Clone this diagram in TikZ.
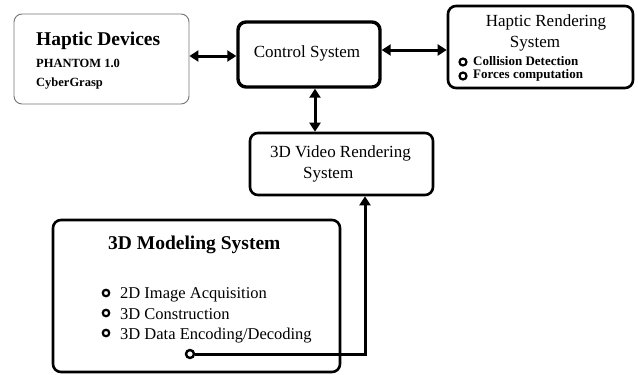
\documentclass[tikz,border=0pt]{standalone}
\usepackage{fontspec}
\setmainfont{Liberation Serif}
\usetikzlibrary{arrows.meta}

\begin{document}
\begin{tikzpicture}[x=1pt, y=-1pt, >={Triangle[length=9pt,width=11pt]},
	box/.style = {draw, rounded corners=8pt, line width=2.6pt, inner sep=0pt},
	txt/.style = {anchor=base west, inner sep=0pt, font=\fontsize{17}{20}\selectfont},
	big/.style = {txt, font=\fontsize{19.5}{22}\bfseries},
	dot/.style = {circle, draw, line width=2.2pt, fill=white, inner sep=0pt, minimum size=6.5pt},
	link/.style = {line width=3pt}]
			\useasboundingbox (0,0) rectangle (638,375);
			% boxes
			\node[box, draw=black!55, line width=0.9pt, minimum width=175pt, minimum height=90pt] (hd) at (101.5,59) {};
			\node[box, line width=3.4pt, minimum width=142pt, minimum height=65pt] (cs) at (309,54.5) {};
			\node[box, minimum width=185pt, minimum height=82pt] (hr) at (540.5,47) {};
			\node[box, minimum width=183pt, minimum height=62pt] (vr) at (341.5,164) {};
			\node[box, minimum width=287pt, minimum height=152pt] (ms) at (196.5,296) {};
			% texts
			\node[big] (hdt) at (36,45) {Haptic Devices};
			\node[txt, font=\fontsize{12.5}{15}\bfseries] (hd1) at (36,67) {PHANTOM 1.0};
			\node[txt, font=\fontsize{12.5}{15}\bfseries] (hd2) at (36,86) {CyberGrasp};
			\node[txt, anchor=base] (cst) at (307,57.3) {Control System};
			\node[txt, anchor=base] (hrt) at (546,26) {Haptic Rendering};
			\node[txt, anchor=base] (hrs) at (535,47) {System};
			\node[txt, font=\fontsize{13}{15}\bfseries] (hr1) at (473,65.3) {Collision Detection};
			\node[txt, font=\fontsize{13}{15}\bfseries] (hr2) at (473,78.7) {Forces computation};
			\node[dot, minimum size=7pt] (hrb1) at (463,62) {};
			\node[dot, minimum size=7pt] (hrb2) at (463,76) {};
			\node[txt] (vrt) at (270,157.3) {3D Video Rendering};
			\node[txt] (vrs) at (303,178.3) {System};
			\node[big] (mst) at (108,249.3) {3D Modeling System};
			\node[txt, font=\fontsize{16.5}{19}\selectfont] (ms1) at (120,298.3) {2D Image Acquisition};
			\node[txt, font=\fontsize{16.5}{19}\selectfont] (ms2) at (120,319) {3D Construction};
			\node[txt, font=\fontsize{16.5}{19}\selectfont] (ms3) at (120,339.3) {3D Data Encoding/Decoding};
			\node[dot] (msb1) at (106,293) {};
			\node[dot] (msb2) at (106,313) {};
			\node[dot] (msb3) at (106,333) {};
			% connectors
			\path
				(hd.east |- 0,56) edge[link, <->] (cs.west |- 0,56)
				(cs.east |- 0,50) edge[link, <->] (hr.west |- 0,50)
				(cs.south -| 315,0) edge[link, <->] (vr.north -| 315,0);
			\node[dot, minimum size=8pt, line width=2.4pt] (out) at (190,354) {};
			\draw[link, ->] (out) -| (vr.south -| 365,0);
		\end{tikzpicture}
\end{document}
